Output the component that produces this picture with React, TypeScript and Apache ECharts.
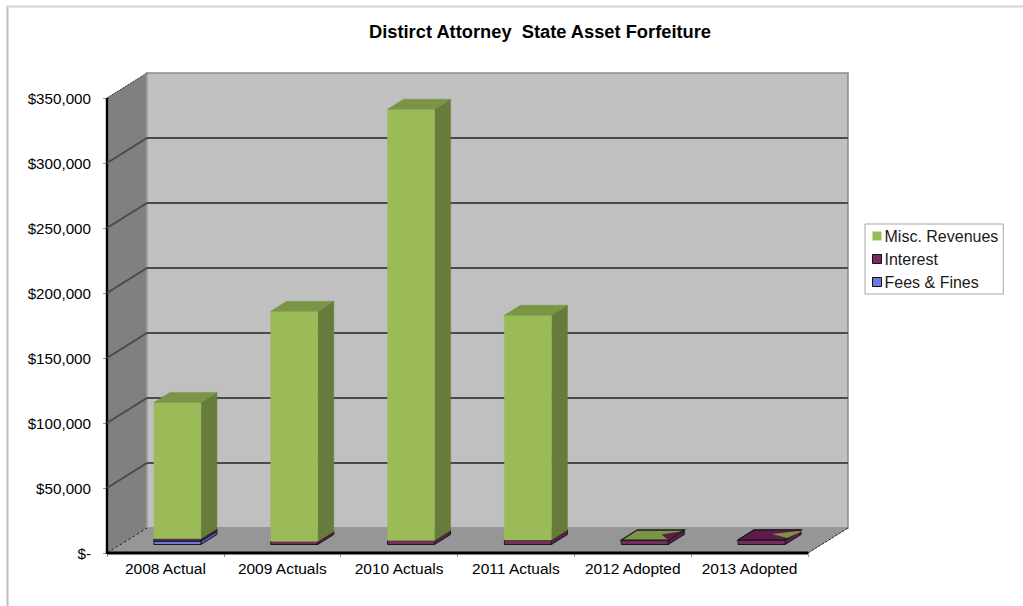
import React, { useEffect, useRef } from "react";
import * as echarts from "echarts";

const categories = ["2008 Actual", "2009 Actuals", "2010 Actuals", "2011 Actuals", "2012 Adopted", "2013 Adopted"];
const feesFines = [2600, 0, 0, 0, 0, 0];
const interest = [1800, 2400, 3000, 3400, 3400, 3500];
const miscRevenues = [104900, 177000, 331800, 172900, 0, 0];
const yTicks = [0, 50000, 100000, 150000, 200000, 250000, 300000, 350000];

const DEPTH_X = 40;
const DEPTH_Y = -25;
const BAR_W = 47;
const BAR_FRONT = 0.3; // bar's front plane as a share of the floor's depth
const BAR_BACK = 0.7;
const BAR_LIFT = 1;

const shade = {
  misc: { front: "#9BBB59", top: "#7A9545", side: "#667B3C" },
  interest: { front: "#772C5E", top: "#611A4C", side: "#5A1F47" },
  fees: { front: "#6B78E6", top: "#5561BC", side: "#4F5AAF" },
};

function poly(points: number[][], fill: string, stroke?: string, lw = 1) {
  return {
    type: "polygon",
    shape: { points },
    style: { fill, stroke: stroke || fill, lineWidth: stroke ? lw : 0.5 },
  };
}

function barLayer(getBase: (i: number) => number, colours: any, outline?: string) {
  return (params: any, api: any) => {
    const i = api.value(0);
    const base = getBase(i);
    const v = api.value(1);
    const c = api.coord([i, base]);
    const t = api.coord([i, base + v]);
    const fx = BAR_FRONT * DEPTH_X;
    const fy = BAR_FRONT * DEPTH_Y - BAR_LIFT;
    const bx = (BAR_BACK - BAR_FRONT) * DEPTH_X;
    const by = (BAR_BACK - BAR_FRONT) * DEPTH_Y;
    const l = c[0] + fx - BAR_W / 2;
    const r = l + BAR_W;
    const yb = c[1] + fy;
    const yt = t[1] + fy;
    const children: any[] = [];
    if (v > 0) {
      children.push(poly([[r, yb], [r + bx, yb + by], [r + bx, yt + by], [r, yt]], colours.side, outline));
      children.push(poly([[l, yb], [r, yb], [r, yt], [l, yt]], colours.front, outline));
    }
    children.push(poly([[l, yt], [r, yt], [r + bx, yt + by], [l + bx, yt + by]], colours.top, outline));
    return { type: "group", children };
  };
}

// Flat adopted-year bars: the coincident tops of the zero-height layer fight with the one below.
function flatTops(params: any, api: any) {
  const i = api.value(0);
  const total = api.value(1);
  const c = api.coord([i, total]);
  const bx = (BAR_BACK - BAR_FRONT) * DEPTH_X;
  const by = (BAR_BACK - BAR_FRONT) * DEPTH_Y;
  const l = c[0] + BAR_FRONT * DEPTH_X - BAR_W / 2;
  const y = c[1] + BAR_FRONT * DEPTH_Y - BAR_LIFT;
  const isGreen = i === 4;
  const top = isGreen ? shade.misc.top : shade.interest.top;
  const tri = isGreen ? shade.interest.top : shade.misc.top;
  const corner = (u: number, w: number) => [l + u * BAR_W + w * bx, y + w * by];
  const points = isGreen
    ? [corner(0.67, 0.55), corner(0.98, 0.85), corner(1, 0)]
    : [corner(0.52, 0.6), corner(1.07, 0.95), corner(0.98, 0.2)];
  return {
    type: "group",
    children: [
      poly([corner(0, 0), corner(1, 0), corner(1, 1), corner(0, 1)], top, "#1a1a1a", 1.2),
      { type: "polygon", shape: { points }, style: { fill: tri } },
    ],
  };
}

function wallsRender(params: any, api: any) {
  const o = api.coord([0, 0]);
  const size = api.size([1, 0]);
  const left = o[0] - size[0] / 2;
  const right = left + size[0] * categories.length;
  const bottom = o[1];
  const top = api.coord([0, 350000])[1];
  return {
    type: "group",
    children: [
      { type: "polygon", shape: { points: [[left + DEPTH_X, top + DEPTH_Y], [right + DEPTH_X, top + DEPTH_Y], [right + DEPTH_X, bottom + DEPTH_Y], [left + DEPTH_X, bottom + DEPTH_Y]] }, style: { fill: "#C0C0C0", stroke: "#8A8A8A", lineWidth: 1.5 } },
      { type: "polygon", shape: { points: [[left, top], [left + DEPTH_X, top + DEPTH_Y], [left + DEPTH_X, bottom + DEPTH_Y], [left, bottom]] }, style: { fill: "#808080" } },
      { type: "polygon", shape: { points: [[left, bottom], [left + DEPTH_X, bottom + DEPTH_Y], [right + DEPTH_X, bottom + DEPTH_Y], [right, bottom]] }, style: { fill: "#969696" } },
      { type: "line", shape: { x1: left + DEPTH_X, y1: top + DEPTH_Y, x2: left + DEPTH_X, y2: bottom + DEPTH_Y }, style: { stroke: "#A6A6A6", lineWidth: 1.5 } },
      { type: "line", shape: { x1: left, y1: top, x2: left + DEPTH_X, y2: top + DEPTH_Y }, style: { stroke: "#333333", lineWidth: 1, lineDash: [2, 1] } },
      { type: "line", shape: { x1: left, y1: bottom, x2: left + DEPTH_X, y2: bottom + DEPTH_Y }, style: { stroke: "#222222", lineWidth: 1, lineDash: [3, 2] } },
      { type: "line", shape: { x1: right, y1: bottom, x2: right + DEPTH_X, y2: bottom + DEPTH_Y }, style: { stroke: "#222222", lineWidth: 1, lineDash: [3, 1] } },
      { type: "line", shape: { x1: left, y1: top, x2: left, y2: bottom + 1 }, style: { stroke: "#000000", lineWidth: 2.4 } },
      { type: "line", shape: { x1: left, y1: bottom, x2: right, y2: bottom }, style: { stroke: "#000000", lineWidth: 3 } },
    ],
  };
}

function gridRender(params: any, api: any) {
  const v = api.value(0);
  if (v === 0 || v === 350000) return { type: "group", children: [] };
  const o = api.coord([0, v]);
  const size = api.size([1, 0]);
  const left = o[0] - size[0] / 2;
  const right = left + size[0] * categories.length;
  const y = o[1];
  return {
    type: "group",
    children: [
      { type: "polyline", shape: { points: [[left, y], [left + DEPTH_X, y + DEPTH_Y], [right + DEPTH_X, y + DEPTH_Y]] }, style: { fill: "none", stroke: "#4A4A4A", lineWidth: 2 } },
    ],
  };
}

const idx = categories.map((_, i) => i);

export default function App() {
  const ref = useRef<HTMLDivElement>(null);
  useEffect(() => {
    const chart = echarts.init(ref.current!, undefined, { renderer: "svg" });
    const font = "Liberation Sans";
    const clip = false;
    chart.setOption({
      animation: false,
      backgroundColor: "#FFFFFF",
      textStyle: { fontFamily: font },
      title: {
        text: "Distirct Attorney  State Asset Forfeiture",
        left: 535,
        textAlign: "center",
        top: 17,
        textStyle: { fontFamily: font, fontSize: 18.3, fontWeight: "bold", color: "#000000" },
      },
      legend: {
        orient: "vertical",
        left: 865,
        top: 224,
        width: 140,
        padding: [4, 5, 4, 7],
        itemGap: 7,
        itemWidth: 9,
        itemHeight: 9,
        icon: "rect",
        selectedMode: false,
        backgroundColor: "#FFFFFF",
        borderColor: "#A6A6A6",
        borderWidth: 1,
        textStyle: { fontFamily: font, fontSize: 16, color: "#1A1A1A", padding: [0, 0, 0, -2] },
        data: [
          { name: "Misc. Revenues", itemStyle: { color: "#9BBB59", borderWidth: 0 } },
          { name: "Interest", itemStyle: { color: "#772C5E", borderColor: "#111111", borderWidth: 1 } },
          { name: "Fees & Fines", itemStyle: { color: "#6B78E6", borderColor: "#111111", borderWidth: 1 } },
        ],
      },
      grid: { left: 107, right: 215, top: 98, bottom: 53, containLabel: false },
      xAxis: {
        type: "category",
        data: categories,
        boundaryGap: true,
        axisLine: { show: false },
        axisTick: { show: true, alignWithLabel: false, length: 4, lineStyle: { color: "#999999" } },
        axisLabel: { fontFamily: font, fontSize: 15.5, color: "#000000", margin: 7, interval: 0 },
        splitLine: { show: false },
      },
      yAxis: {
        type: "value",
        min: 0,
        max: 350000,
        interval: 50000,
        axisLine: { show: false },
        axisTick: { show: true, length: 4, lineStyle: { color: "#999999" } },
        axisLabel: {
          fontFamily: font,
          fontSize: 15.2,
          color: "#000000",
          margin: 16,
          formatter: (v: number) => (v === 0 ? "$-" : "$" + v.toLocaleString("en-US")),
        },
        splitLine: { show: false },
      },
      series: [
        { name: "walls", type: "custom", z: 1, clip, silent: true, renderItem: wallsRender, data: [[0, 0]], encode: { x: 0, y: 1 } },
        { name: "gridlines", type: "custom", z: 2, clip, silent: true, renderItem: gridRender, data: yTicks.map((t) => [t]), encode: { y: 0 } },
        { name: "Fees & Fines", type: "custom", z: 3, clip, itemStyle: { color: "#6B78E6" }, encode: { x: 0, y: 1 },
          renderItem: barLayer(() => 0, shade.fees, "#1a1a1a"),
          data: idx.filter((i) => feesFines[i] > 0).map((i) => [i, feesFines[i]]) },
        { name: "Interest", type: "custom", z: 4, clip, itemStyle: { color: "#772C5E" }, encode: { x: 0, y: 1 },
          renderItem: barLayer((i) => feesFines[i], shade.interest, "#1a1a1a"),
          data: idx.map((i) => [i, interest[i]]) },
        { name: "Misc. Revenues", type: "custom", z: 5, clip, itemStyle: { color: "#9BBB59" }, encode: { x: 0, y: 1 },
          renderItem: barLayer((i) => feesFines[i] + interest[i], shade.misc),
          data: idx.filter((i) => miscRevenues[i] > 0).map((i) => [i, miscRevenues[i]]) },
        { name: "flat tops", type: "custom", z: 6, clip, silent: true, encode: { x: 0, y: 1 },
          renderItem: flatTops,
          data: idx.filter((i) => miscRevenues[i] === 0).map((i) => [i, feesFines[i] + interest[i]]) },
      ],
      graphic: [
        { type: "line", shape: { x1: 7.5, y1: 6, x2: 7.5, y2: 606 }, style: { stroke: "#BEBEBE", lineWidth: 2 } },
        { type: "line", shape: { x1: 7, y1: 6.5, x2: 1023, y2: 6.5 }, style: { stroke: "#D4D4D4", lineWidth: 2 } },
      ],
    });
    return () => chart.dispose();
  }, []);
  return <div ref={ref} style={{ position: "absolute", left: 0, top: 0, width: 1023, height: 606 }} />;
}
